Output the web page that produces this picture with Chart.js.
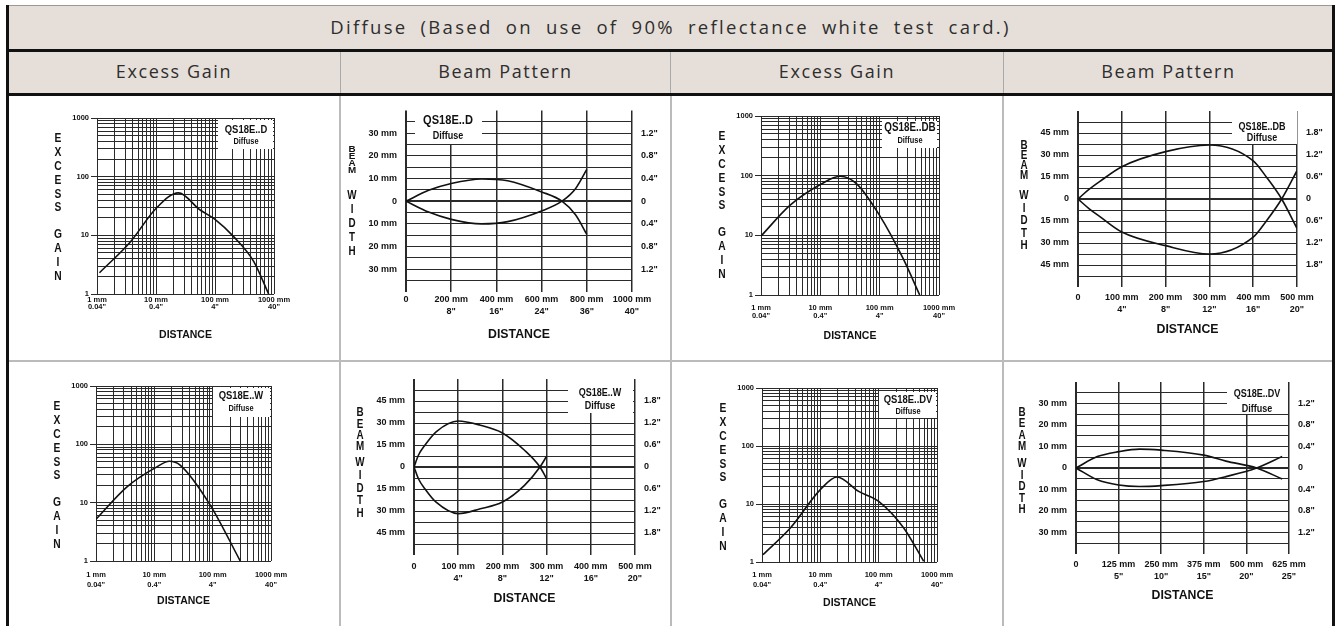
<!DOCTYPE html>
<html>
<head>
<meta charset="utf-8">
<script src="https://cdn.jsdelivr.net/npm/chart.js@4.4.1/dist/chart.umd.min.js"></script>
<style>
  body { margin: 0; background: #fff; }
  #page { position: relative; width: 1338px; height: 626px; overflow: hidden; font-family: 'Open Sans', sans-serif; }
  .band { position: absolute; background: #e6dfd9; }
  .line { position: absolute; }
  .head { position: absolute; text-align: center; color: #2e2e2e; font-size: 18px; letter-spacing: 1.6px; }
  .title { letter-spacing: 2.3px; word-spacing: 6px; font-size: 18.5px; }
  canvas { position: absolute; }
</style>
</head>
<body>
<div id="page">
  <div class="band" style="left:6px;top:5px;width:1329px;height:44px;border-top:1px solid #999;"></div>
  <div class="band" style="left:6px;top:51px;width:1329px;height:42px;"></div>
  <div class="line" style="left:6px;top:49px;width:1329px;height:3px;background:#111;"></div>
  <div class="line" style="left:6px;top:93px;width:1329px;height:3px;background:#111;"></div>
  <div class="line" style="left:340px;top:52px;width:1px;height:41px;background:#aaa;"></div>
  <div class="line" style="left:670px;top:52px;width:1px;height:41px;background:#aaa;"></div>
  <div class="line" style="left:1003px;top:52px;width:1px;height:41px;background:#aaa;"></div>
  <div class="line" style="left:339px;top:96px;width:2px;height:530px;background:#bbb;"></div>
  <div class="line" style="left:670px;top:96px;width:2px;height:530px;background:#bbb;"></div>
  <div class="line" style="left:1002px;top:96px;width:2px;height:530px;background:#bbb;"></div>
  <div class="line" style="left:9px;top:360px;width:1323px;height:2px;background:#bbb;"></div>
  <div class="line" style="left:6px;top:5px;width:3px;height:621px;background:#111;"></div>
  <div class="line" style="left:1332px;top:5px;width:3px;height:621px;background:#111;"></div>

  <div class="head title" style="left:9px;top:14px;width:1323px;">Diffuse (Based on use of 90% reflectance white test card.)</div>
  <div class="head" style="left:9px;top:59px;width:330px;">Excess Gain</div>
  <div class="head" style="left:341px;top:59px;width:329px;">Beam Pattern</div>
  <div class="head" style="left:672px;top:59px;width:330px;">Excess Gain</div>
  <div class="head" style="left:1005px;top:59px;width:327px;">Beam Pattern</div>

  <canvas id="egD" width="330" height="264" style="left:9px;top:96px;"></canvas>
  <canvas id="bpD" width="329" height="264" style="left:341px;top:96px;"></canvas>
  <canvas id="egDB" width="330" height="264" style="left:672px;top:96px;"></canvas>
  <canvas id="bpDB" width="327" height="264" style="left:1005px;top:96px;"></canvas>
  <canvas id="egW" width="330" height="263" style="left:9px;top:363px;"></canvas>
  <canvas id="bpW" width="329" height="263" style="left:341px;top:363px;"></canvas>
  <canvas id="egDV" width="330" height="263" style="left:672px;top:363px;"></canvas>
  <canvas id="bpDV" width="327" height="263" style="left:1005px;top:363px;"></canvas>
</div>

<script>
const FONT = "'Liberation Sans', Arial, sans-serif";
const GRID = '#2a2a2a';
const INK = '#111';
const NARROW = 0.82; // horizontal squeeze for the hand drawn texts

// ---- excess gain curves (distance mm, gain) ----
const gainDecades = [1, 10, 100, 1000];
const gainTickLabels = ['1', '10', '100', '1000'];
const egDistLabels = [['1 mm', '0.04"'], ['10 mm', '0.4"'], ['100 mm', '4"'], ['1000 mm', '40"']];

const egDistD  = [1.1, 3.7, 10, 24, 56, 100, 207, 452, 812];
const egGainD  = [2.3, 7.8, 28.7, 53, 27, 18.7, 9.5, 3.6, 1.0];
const egDistDB = [1, 3.1, 10, 21.5, 41, 99, 248, 473];
const egGainDB = [9.7, 32, 71, 98, 73, 21.8, 4.1, 1.0];
const egDistW  = [1, 3.4, 10.3, 18.2, 27.7, 90.7, 297];
const egGainW  = [5.2, 18.7, 39.5, 51.4, 44, 9.1, 1.0];
const egDistDV = [1.04, 3.06, 10, 19.3, 45.4, 100, 269, 591];
const egGainDV = [1.34, 3.86, 17.7, 29.2, 16.5, 11.1, 3.86, 1.03];

// ---- beam pattern curves (distance mm, width mm) ----
const bpDistD   = [0, 100, 200, 335, 450, 600, 690, 750, 800];
const bpUpperD  = [0, 4.8, 7.8, 9.8, 9.0, 4.1, 0, -6, -14.6];
const bpLowerD  = [0, -4.8, -8, -10, -9, -4.3, 0, 5.5, 14];
const bpXTicksD = [0, 200, 400, 600, 800, 1000];
const bpXLabelsD = ['0', ['200 mm', '8"'], ['400 mm', '16"'], ['600 mm', '24"'], ['800 mm', '36"'], ['1000 mm', '40"']];

const bpDistDB  = [0, 25, 50, 100, 200, 300, 400, 430, 465, 500];
const bpUpperDB = [0, 6.5, 12, 22, 32.3, 36.8, 26, 15, 0, -20];
const bpLowerDB = [0, -6.5, -12, -22.5, -31.8, -37.5, -26, -15, 0, 19.3];
const bpXTicksDB = [0, 100, 200, 300, 400, 500];
const bpXLabelsDB = ['0', ['100 mm', '4"'], ['200 mm', '8"'], ['300 mm', '12"'], ['400 mm', '16"'], ['500 mm', '20"']];

const bpDistW   = [0, 10, 25, 50, 100, 150, 200, 250, 285, 300];
const bpUpperW  = [0, 8, 15, 24, 31.4, 28.5, 23.2, 11.4, 0, -8];
const bpLowerW  = [0, -8, -15, -24, -31.8, -28.5, -23.9, -12.5, 0, 7.3];
const bpXTicksW = [0, 100, 200, 300, 400, 500];
const bpXLabelsW = bpXLabelsDB;

const bpDistDV  = [0, 62.5, 125, 187, 250, 375, 440, 530, 605];
const bpUpperDV = [0, 5.3, 7.6, 8.8, 8.3, 6, 3.2, 0, -5.1];
const bpLowerDV = [0, -5.5, -7.9, -8.6, -8.2, -6.3, -4, 0, 5.3];
const bpXTicksDV = [0, 125, 250, 375, 500, 625];
const bpXLabelsDV = ['0', ['125 mm', '5"'], ['250 mm', '10"'], ['375 mm', '15"'], ['500 mm', '20"'], ['625 mm', '25"']];

const mmTicks10 = [30, 20, 10, 0, -10, -20, -30];
const mmLeft10 = ['30 mm', '20 mm', '10 mm', '0', '10 mm', '20 mm', '30 mm'];
const inRight10 = ['1.2"', '0.8"', '0.4"', '0', '0.4"', '0.8"', '1.2"'];
const mmTicks15 = [45, 30, 15, 0, -15, -30, -45];
const mmLeft15 = ['45 mm', '30 mm', '15 mm', '0', '15 mm', '30 mm', '45 mm'];
const inRight15 = ['1.8"', '1.2"', '0.6"', '0', '0.6"', '1.2"', '1.8"'];

function pts(xs, ys) { return xs.map((x, i) => ({ x: x, y: ys[i] })); }

// grid positions of a 3 decade log axis
const logGrid = [];
for (let d = 1; d < 1000; d *= 10) for (let k = 1; k < 10; k++) logGrid.push(d * k);
logGrid.push(1000);

function narrowText(ctx, text, x, y, sy) {
  ctx.save();
  ctx.translate(x, y);
  ctx.scale(NARROW, sy || 1);
  ctx.fillText(text, 0, 0);
  ctx.restore();
}

function decor(spec, ox, oy) {
  return {
    id: 'decor',
    beforeDatasetsDraw(chart) {
      const ctx = chart.ctx;
      const [x0, y0, x1, y1] = spec.box;
      ctx.save();
      ctx.fillStyle = '#fff';
      ctx.fillRect(x0 - ox, y0 - oy, x1 - x0, y1 - y0);
      ctx.fillStyle = INK;
      ctx.textAlign = 'center';
      ctx.textBaseline = 'middle';
      ctx.font = 'bold ' + spec.nameSize + 'px ' + FONT;
      narrowText(ctx, spec.name, spec.tx - ox, spec.ty[0] - oy);
      ctx.font = 'bold ' + spec.subSize + 'px ' + FONT;
      narrowText(ctx, 'Diffuse', spec.tx - ox, spec.ty[1] - oy);
      ctx.restore();
    },
    afterDraw(chart) {
      const ctx = chart.ctx;
      ctx.save();
      ctx.fillStyle = INK;
      ctx.textAlign = 'center';
      ctx.textBaseline = 'middle';
      spec.words.forEach(w => {
        ctx.font = 'bold ' + w.size + 'px ' + FONT;
        [...w.text].forEach((ch, i) => narrowText(ctx, ch, w.x - ox, w.y0 + i * w.step - oy, w.sy));
      });
      ctx.restore();
    }
  };
}

function egChart(id, c) {
  const cv = document.getElementById(id);
  const ox = cv.offsetLeft, oy = cv.offsetTop;
  const [L, T, R, B] = c.area;
  const wl = 36, titleSize = 10.5;
  const hx = c.dist + titleSize / 2;
  const words = [
    { text: 'EXCESS', x: L - 39, y0: T + 21, step: 13.8, size: 12.5 },
    { text: 'GAIN', x: L - 39, y0: T + 117, step: 13.8, size: 12.5 }
  ];
  const tickFont = { family: FONT, size: 7.5, weight: 'bold' };
  new Chart(cv, {
    type: 'line',
    data: { datasets: [{ data: pts(c.xs, c.ys), borderColor: INK, borderWidth: 1.6, pointRadius: 0, cubicInterpolationMode: 'monotone', fill: false }] },
    options: {
      responsive: false, animation: false,
      layout: { padding: { left: L - ox - wl, top: T - oy, right: ox + cv.width - R, bottom: oy + cv.height - B - hx } },
      plugins: { legend: { display: false }, tooltip: { enabled: false } },
      scales: {
        x: {
          type: 'logarithmic', min: 1, max: 1000,
          afterBuildTicks: s => { s.ticks = logGrid.map(v => ({ value: v })); },
          afterFit: s => { s.height = hx; },
          grid: { color: GRID, lineWidth: 1, drawTicks: false },
          border: { display: false },
          ticks: {
            autoSkip: false, maxRotation: 0, minRotation: 0, padding: c.xPad, color: INK,
            font: Object.assign({ lineHeight: c.xLh + 'px' }, tickFont),
            callback: v => { const i = gainDecades.indexOf(v); return i < 0 ? '' : egDistLabels[i]; }
          },
          title: { display: true, text: 'DISTANCE', padding: 0, color: INK, font: { family: FONT, size: titleSize, weight: 'bold', lineHeight: 1 } }
        },
        y: {
          type: 'logarithmic', min: 1, max: 1000,
          afterBuildTicks: s => { s.ticks = logGrid.map(v => ({ value: v })); },
          afterFit: s => { s.width = wl; },
          grid: { color: GRID, lineWidth: 1, drawTicks: true, tickLength: 6,
                  tickColor: ctx => gainDecades.includes(ctx.tick.value) ? GRID : 'rgba(0,0,0,0)' },
          border: { display: false },
          ticks: {
            autoSkip: false, padding: 2, color: INK, font: tickFont,
            callback: v => { const i = gainDecades.indexOf(v); return i < 0 ? '' : gainTickLabels[i]; }
          }
        }
      }
    },
    plugins: [decor({ box: c.box, name: c.name, nameSize: c.nameSize, subSize: 9, tx: c.tx, ty: c.ty, words: words }, ox, oy)]
  });
}

function bpChart(id, c) {
  const cv = document.getElementById(id);
  const ox = cv.offsetLeft, oy = cv.offsetTop;
  const [L, T, R, B] = c.area;
  const wl = 46, wr = 32, titleSize = 12.3;
  const hx = c.dist + titleSize / 2;
  const zero = (T + B) / 2;
  const yGrid = [];
  for (let k = -Math.round(c.yMax / c.yStep); k <= Math.round(c.yMax / c.yStep); k++) yGrid.push(k * c.yStep);
  const words = [
    { text: 'BEAM', x: L - 54, y0: zero + c.beam[0], step: c.beam[1], sy: c.beam[2], size: 12 },
    { text: 'WIDTH', x: L - 54, y0: zero + c.width[0], step: c.width[1], size: 12 }
  ];
  const tickFont = { family: FONT, size: 9, weight: 'bold' };
  const line = (ys) => ({ data: pts(c.xs, ys), yAxisID: 'y', borderColor: INK, borderWidth: 1.6, pointRadius: 0, cubicInterpolationMode: 'monotone', fill: false });
  const yScale = (pos, labels, width) => ({
    type: 'linear', position: pos, min: -c.yMax, max: c.yMax,
    afterBuildTicks: s => { s.ticks = yGrid.map(v => ({ value: v })); },
    afterFit: s => { s.width = width; },
    grid: pos === 'left'
      ? { color: ctx => Math.abs(ctx.tick.value) >= c.yMax ? 'rgba(0,0,0,0)' : GRID,
          lineWidth: ctx => ctx.tick.value === 0 ? 2 : 1, drawTicks: false }
      : { display: false, drawTicks: false },
    border: { display: false },
    ticks: {
      autoSkip: false, padding: 9, color: INK, font: tickFont,
      callback: v => { const i = c.yTicks.indexOf(v); return i < 0 ? '' : labels[i]; }
    }
  });
  new Chart(cv, {
    type: 'line',
    data: { datasets: [line(c.up), line(c.low)] },
    options: {
      responsive: false, animation: false,
      layout: { padding: { left: L - ox - wl, top: T - oy, right: ox + cv.width - R - wr, bottom: oy + cv.height - B - hx } },
      plugins: { legend: { display: false }, tooltip: { enabled: false } },
      scales: {
        x: {
          type: 'linear', min: 0, max: c.xTicks[c.xTicks.length - 1],
          afterBuildTicks: s => { s.ticks = c.xTicks.map(v => ({ value: v })); },
          afterFit: s => { s.height = hx; },
          grid: { color: GRID, lineWidth: ctx => ctx.tick.value === 0 ? 2 : 1.5, drawTicks: false },
          border: { display: false },
          ticks: {
            autoSkip: false, maxRotation: 0, minRotation: 0, padding: c.xPad, color: INK,
            font: Object.assign({ lineHeight: '12px' }, tickFont),
            callback: v => { const i = c.xTicks.indexOf(v); return i < 0 ? '' : c.xLabels[i]; }
          },
          title: { display: true, text: 'DISTANCE', padding: 0, color: INK, font: { family: FONT, size: titleSize, weight: 'bold', lineHeight: 1 } }
        },
        y: yScale('left', c.left, wl),
        y2: yScale('right', c.right, wr)
      }
    },
    plugins: [decor({ box: c.box, name: c.name, nameSize: c.nameSize, subSize: 11, tx: c.tx, ty: c.ty, words: words }, ox, oy)]
  });
}

egChart('egD', { xs: egDistD, ys: egGainD, area: [97, 118, 274, 294], dist: 41, xPad: 2, xLh: 7.5,
  name: 'QS18E..D', nameSize: 11.5, box: [218, 120, 273, 149], tx: 246, ty: [130, 142] });
egChart('egDB', { xs: egDistDB, ys: egGainDB, area: [761, 116, 939, 295], dist: 41, xPad: 9.5, xLh: 7.5,
  name: 'QS18E..DB', nameSize: 12, box: [882, 121, 937, 148], tx: 910, ty: [128, 141] });
egChart('egW', { xs: egDistW, ys: egGainW, area: [96, 386, 271, 561], dist: 40, xPad: 9, xLh: 10,
  name: 'QS18E..W', nameSize: 11.5, box: [213, 388, 270, 417], tx: 241, ty: [396, 409] });
egChart('egDV', { xs: egDistDV, ys: egGainDV, area: [762, 388, 937, 562], dist: 41, xPad: 7.5, xLh: 10.5,
  name: 'QS18E..DV', nameSize: 11.5, box: [879, 392, 936, 418], tx: 908, ty: [400, 412] });

bpChart('bpD', { xs: bpDistD, up: bpUpperD, low: bpLowerD, xTicks: bpXTicksD, xLabels: bpXLabelsD,
  yMax: 40, yStep: 5, yTicks: mmTicks10, left: mmLeft10, right: inRight10,
  area: [406, 110, 632, 292], dist: 43, xPad: 1.5, beam: [-51, 7, 0.75], width: [-5, 14],
  name: 'QS18E..D', nameSize: 13.5, box: [415, 109, 482, 144], tx: 448, ty: [120, 136] });
bpChart('bpDB', { xs: bpDistDB, up: bpUpperDB, low: bpLowerDB, xTicks: bpXTicksDB, xLabels: bpXLabelsDB,
  yMax: 60, yStep: 7.5, yTicks: mmTicks15, left: mmLeft15, right: inRight15,
  area: [1078, 111, 1297, 287], dist: 43, xPad: 4.5, beam: [-53, 10], width: [-3, 12.5],
  name: 'QS18E..DB', nameSize: 11, box: [1232, 109, 1297, 144], tx: 1262, ty: [127, 138] });
bpChart('bpW', { xs: bpDistW, up: bpUpperW, low: bpLowerW, xTicks: bpXTicksW, xLabels: bpXLabelsW,
  yMax: 60, yStep: 7.5, yTicks: mmTicks15, left: mmLeft15, right: inRight15,
  area: [414, 379, 635, 555], dist: 44, xPad: 5.5, beam: [-54, 11.2], width: [-4, 12.7],
  name: 'QS18E..W', nameSize: 11, box: [568, 378, 633, 413], tx: 600, ty: [393, 406] });
bpChart('bpDV', { xs: bpDistDV, up: bpUpperDV, low: bpLowerDV, xTicks: bpXTicksDV, xLabels: bpXLabelsDV,
  yMax: 40, yStep: 5, yTicks: mmTicks10, left: mmLeft10, right: inRight10,
  area: [1076, 382, 1289, 554], dist: 42, xPad: 5, beam: [-55, 11.1], width: [-4, 11.5],
  name: 'QS18E..DV', nameSize: 11, box: [1227, 381, 1288, 414], tx: 1257, ty: [394, 409] });
</script>
</body>
</html>
